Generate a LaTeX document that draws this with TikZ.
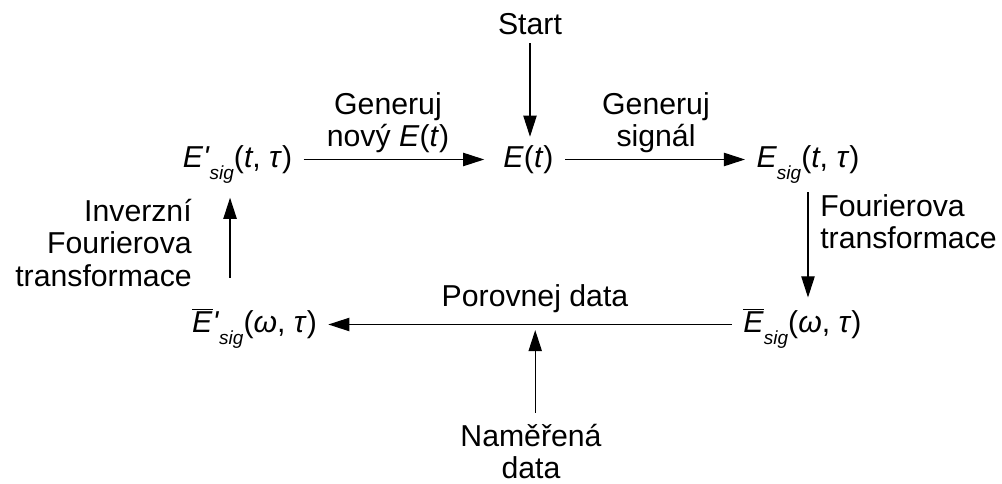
\documentclass[tikz,border=0pt]{standalone}
\usepackage{fontspec}
\setmainfont{Liberation Sans}
\usetikzlibrary{arrows.meta}

\newcommand{\sig}{\raisebox{-9pt}{\fontsize{13.5}{13.5}\selectfont\textit{sig}}}
\newcommand{\ebar}{$\overline{\mbox{\textit{E}}}$}

\begin{document}
\begin{tikzpicture}[x=0.025cm,y=-0.025cm,
    font=\fontsize{21.5}{23}\selectfont,
    state/.style={inner xsep=8pt,inner ysep=5pt,text height=16.5pt,text depth=5.5pt},
    lbl/.style={inner sep=0pt},
    arr/.style={-{Triangle[length=15pt,width=9.5pt]},line width=0.8pt}]
    \useasboundingbox (0,0) rectangle (1002,484);

    % states of the loop
    \node[lbl, anchor=base] (start) at (530,35) {Start};
    \node[state] (et) at (528.5,159.5) {\textit{E}(\textit{t})};
    \node[state] (ep) at (237.5,159.5) {\textit{E\textquotesingle}\sig(\textit{t}, \textit{τ})};
    \node[state] (es) at (808,159.5) {\textit{E}\sig(\textit{t}, \textit{τ})};
    \node[state] (ebp) at (254.5,324.5) {\ebar\textit{\textquotesingle}\sig(\textit{ω}, \textit{τ})};
    \node[state] (eb) at (802.5,324.5) {\ebar\sig(\textit{ω}, \textit{τ})};
    \node[lbl, anchor=north, align=center] (meas) at (531,424) {Naměřená\\data};

    % step labels
    \node[lbl, anchor=north, align=center] (gen1) at (388,92) {Generuj\\nový \textit{E}(\textit{t})};
    \node[lbl, anchor=north, align=center] (gen2) at (656,92) {Generuj\\signál};
    \node[lbl, anchor=north west, align=left] (ft) at (820,194) {Fourierova\\transformace};
    \node[lbl, anchor=north east, align=right] (ift) at (192,199) {Inverzní\\Fourierova\\transformace};
    \node[lbl, anchor=base] (cmp) at (535,307) {Porovnej data};

    \draw[arr, shorten <=5.5pt] (start) -- (start |- et.north);
    \draw[arr, shorten >=5.5pt] (ep) -- (et);
    \draw[arr] (et) -- (es);
    \draw[arr, shorten <=7pt, shorten >=3pt] (es.south) -- (es.south |- eb.north);
    \draw[arr] (eb) -- (ebp);
    \draw[arr, shorten <=17pt, shorten >=11pt] ([xshift=-5.3pt]ep.south |- ebp.north) -- ([xshift=-5.3pt]ep.south);
    \draw[arr, shorten <=8pt, shorten >=4pt] ([xshift=3pt]meas.north) -- ([xshift=3pt]meas.north |- eb.west);
\end{tikzpicture}
\end{document}
